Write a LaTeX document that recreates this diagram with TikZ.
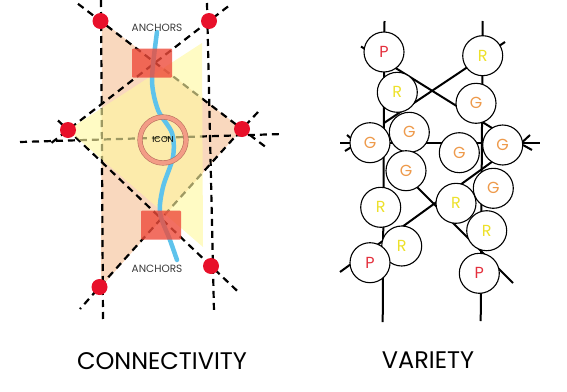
\documentclass[tikz,border=0pt]{standalone}
\usepackage{fontspec}
\setmainfont{Poppins}
\usepackage{xcolor}
\usepackage{tikz}
\usetikzlibrary{calc}
\definecolor{peachfill}{HTML}{F9D8BE}
\definecolor{yellowfill}{HTML}{FFF8A0}
\definecolor{riverblue}{HTML}{5EC3EC}
\definecolor{boxred}{HTML}{EE4B3B}
\definecolor{dotred}{HTML}{E8102A}
\definecolor{ringsalmon}{HTML}{F39C86}
\definecolor{ringedge}{HTML}{B8705E}
\definecolor{letterred}{HTML}{E42F3C}
\definecolor{letteryellow}{HTML}{EDE12A}
\definecolor{letterorange}{HTML}{EE9A4B}
\definecolor{labelgrey}{HTML}{3A3A3A}

\begin{document}
\begin{tikzpicture}[x=1pt, y=-1pt,
    dashline/.style={black, line width=2.2pt, dash pattern=on 7pt off 5pt},
    reddot/.style={circle, fill=dotred, minimum size=16pt, inner sep=0pt},
    anchorbox/.style={fill=boxred, fill opacity=0.8, minimum width=40pt, minimum height=29pt, inner sep=0pt, rounded corners=1pt},
    iconring/.style={circle, minimum size=46pt, inner sep=0pt, draw=ringedge, line width=0.6pt, double=ringsalmon, double distance=4pt, font=\fontsize{8.5}{8.5}\selectfont},
    anchorlabel/.style={text=labelgrey, font=\fontsize{10.5}{10.5}\selectfont},
    bead/.style={circle, draw=black, line width=1.1pt, fill=white, minimum size=40pt, inner sep=0pt, font=\fontsize{16}{16}\selectfont},
    strand/.style={black, line width=2pt},
    title/.style={font=\fontsize{24}{24}\selectfont}]
    \useasboundingbox (0,0) rectangle (567,391);

    % Dot positions
    \coordinate (tl) at (100.5,21);
    \coordinate (tr) at (209,21);
    \coordinate (ml) at (68,130);
    \coordinate (mr) at (242,129);
    \coordinate (br) at (211,266);
    \coordinate (bl) at (99.5,287);

    % Peach zone
    \fill[peachfill] (102,21) -- (mr) -- (101,287) -- cycle;

    % Dashed lines
    \coordinate (lv-in) at (101,0);     \coordinate (lv-out) at (103,320);
    \coordinate (rv-in) at (207,3);     \coordinate (rv-out) at (214,312);
    \coordinate (d1-in) at (78,3.8);    \coordinate (d1-out) at (265,146.5);
    \coordinate (d2-in) at (228,6.5);   \coordinate (d2-out) at (50,144);
    \coordinate (hz-in) at (20,142);    \coordinate (hz-out) at (283,134);
    \coordinate (d3-in) at (58,120.5);  \coordinate (d3-out) at (237,290.7);
    \coordinate (d4-in) at (258,112);   \coordinate (d4-out) at (80,309);
    \draw[dashline] (lv-in) -- (lv-out);
    \draw[dashline] (rv-in) -- (rv-out);
    \draw[dashline] (d1-in) -- (tl) -- (mr) -- (d1-out);
    \draw[dashline] (d2-in) -- (tr) -- (ml) -- (d2-out);
    \draw[dashline] (hz-in) -- (hz-out);
    \draw[dashline] (d3-in) -- (ml) -- (br) -- (d3-out);
    \draw[dashline] (d4-in) -- (mr) -- (bl) -- (d4-out);

    % Yellow zone (over the lines)
    \fill[yellowfill, fill opacity=0.62] (ml) -- (202,43) -- (203,247) -- cycle;

    % Water line
    \draw[riverblue, line width=4.5pt, line cap=round] plot[smooth] coordinates {(157,32) (152,80) (158,110) (172,133) (173,157) (163,187) (160,213) (170,240) (177,260)};

    % Anchors and icon
    \node[anchorbox] (anchor-top) at (152,63) {};
    \node[anchorbox] (anchor-bot) at (161,225) {};
    \node[iconring] (icon) at (163,140) {ICON};

    \foreach \d in {tl,tr,ml,mr,br,bl}{
        \node[reddot] (dot-\d) at (\d) {};
    }

    \node[anchorlabel] (label-top) at (157,27.5) {ANCHORS};
    \node[anchorlabel] (label-bot) at (157,269) {ANCHORS};
    \node[title] (connectivity) at (162,361.5) {CONNECTIVITY};

    % Strands
    \coordinate (v1-in) at (384.5,21);  \coordinate (v1-out) at (382.7,322);
    \coordinate (v2-in) at (482.7,21);  \coordinate (v2-out) at (480.7,321);
    \coordinate (xa-in) at (361,46.5);  \coordinate (xa-out) at (500,133);
    \coordinate (xb-in) at (505,42);    \coordinate (xb-out) at (384,123);
    \coordinate (hm-in) at (340,143);   \coordinate (hm-out) at (540,143);
    \coordinate (xc-in) at (400,170);   \coordinate (xc-out) at (513,283);
    \coordinate (xd-in) at (500,156);   \coordinate (xd-out) at (340,272);
    \draw[strand] (v1-in) -- (v1-out);
    \draw[strand] (v2-in) -- (v2-out);
    \draw[strand] (xa-in) -- (xa-out);
    \draw[strand] (xb-in) -- (xb-out);
    \draw[strand] (hm-in) -- (hm-out);
    \draw[strand] (xc-in) -- (xc-out);
    \draw[strand] (xd-in) -- (xd-out);
    \draw[strand] (347,135) -- (353,140);
    \draw[strand] (345,151) -- (353,146);
    \draw[strand] (530,135) -- (523,141.5);
    \draw[strand] (532,150) -- (523,145);

    % Beads
    \foreach \n/\x/\y/\l/\c in {p1/384/52/P/letterred, r2/482.7/55.7/R/letteryellow,
        r3/397.3/92.3/R/letteryellow, g4/476/103.3/G/letterorange,
        g5/370/142.7/G/letterorange, g6/409.3/132.3/G/letterorange,
        g7/459.3/152.7/G/letterorange, g8/502.7/145/G/letterorange,
        g9/406/170.7/G/letterorange, g10/493.3/188.3/G/letterorange,
        r11/380.7/207.3/R/letteryellow, r12/456/203.3/R/letteryellow,
        r13/486.7/230.7/R/letteryellow, r14/401.7/246/R/letteryellow,
        p15/370/262.7/P/letterred, p16/479.3/273.3/P/letterred}{
        \node[bead, text=\c] (\n) at (\x,\y) {\l};
    }

    \node[title] (variety) at (428,360) {VARIETY};
\end{tikzpicture}
\end{document}
